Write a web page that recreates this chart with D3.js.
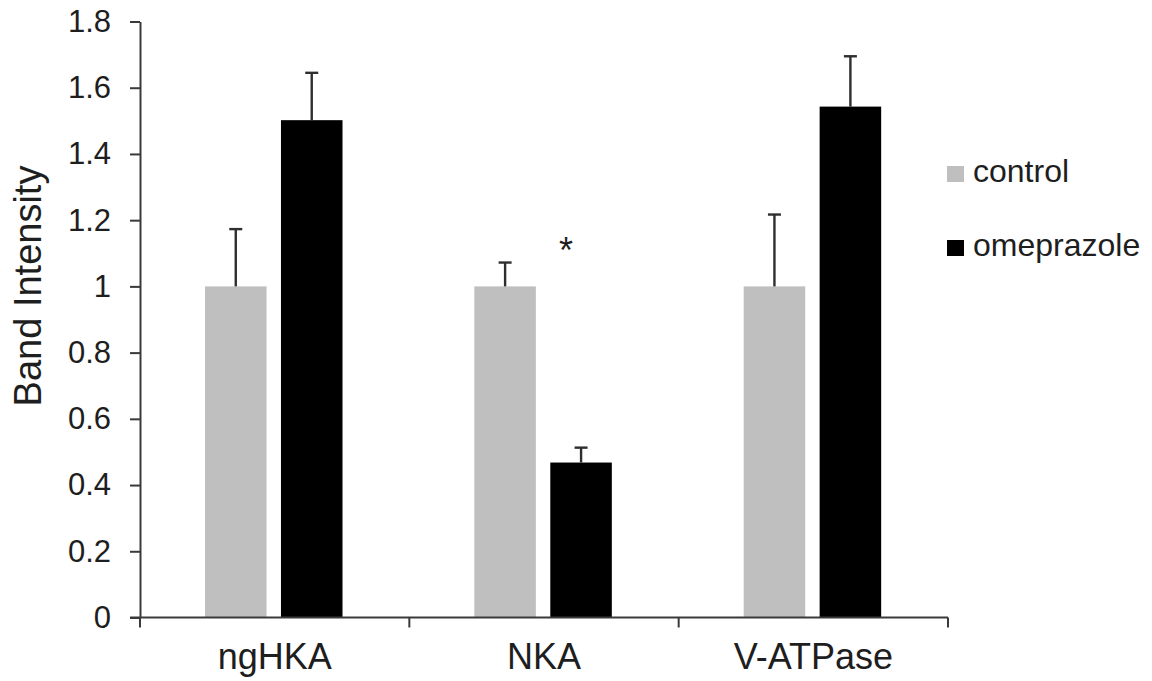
<!DOCTYPE html>
<html>
<head>
<meta charset="utf-8">
<script src="https://cdn.jsdelivr.net/npm/d3@7"></script>
<style>
  body { margin: 0; background: #fff; }
  svg { display: block; font-family: "Liberation Sans", Arial, sans-serif; }
</style>
</head>
<body>
<svg width="1152" height="681"></svg>
<script>
// data
const categories = ["ngHKA", "NKA", "V-ATPase"];
const series = ["control", "omeprazole"];
const controlValues = [1, 1, 1];
const controlErrors = [0.173, 0.072, 0.217];
const omeprazoleValues = [1.502, 0.468, 1.543];
const omeprazoleErrors = [0.143, 0.045, 0.152];
const yTicks = [0, 0.2, 0.4, 0.6, 0.8, 1, 1.2, 1.4, 1.6, 1.8];
const yLabel = "Band Intensity";
const marks = [{category: "NKA", series: "omeprazole", value: 1.135, text: "*"}];

const colors = {control: "#bfbfbf", omeprazole: "#000000"};

let svg = d3.select("svg");

let rows = [];
categories.forEach((c, i) => {
    rows.push({category: c, series: "control", value: controlValues[i], err: controlErrors[i]});
    rows.push({category: c, series: "omeprazole", value: omeprazoleValues[i], err: omeprazoleErrors[i]});
});

let y = d3.scaleLinear().domain([0, 1.8]).range([617.5, 21.5]);
let x0 = d3.scaleBand().domain(categories).range([140, 948]).padding(0);
let x1 = d3.scaleBand().domain(series).range([65, 202.5]).paddingInner(0.19);

const axisColor = "#3a3a3a";
const textColor = "#1e1e1e";

// bars
svg.append("g")
    .selectAll("rect")
    .data(rows)
    .enter()
    .append("rect")
    .attr("x", d => x0(d.category) + x1(d.series))
    .attr("y", d => y(d.value))
    .attr("width", x1.bandwidth())
    .attr("height", d => y(0) - y(d.value))
    .attr("fill", d => colors[d.series]);

// error bars
let err = svg.append("g")
    .attr("stroke", "#2e2e2e")
    .attr("stroke-width", 2.4);

err.selectAll(".stem")
    .data(rows)
    .enter()
    .append("line")
    .attr("x1", d => x0(d.category) + x1(d.series) + x1.bandwidth()/2)
    .attr("x2", d => x0(d.category) + x1(d.series) + x1.bandwidth()/2)
    .attr("y1", d => y(d.value))
    .attr("y2", d => y(d.value + d.err));

err.selectAll(".cap")
    .data(rows)
    .enter()
    .append("line")
    .attr("x1", d => x0(d.category) + x1(d.series) + x1.bandwidth()/2 - 6.5)
    .attr("x2", d => x0(d.category) + x1(d.series) + x1.bandwidth()/2 + 6.5)
    .attr("y1", d => y(d.value + d.err))
    .attr("y2", d => y(d.value + d.err));

// significance
svg.selectAll(".sig")
    .data(marks)
    .enter()
    .append("text")
    .attr("x", d => x0(d.category) + x1(d.series) + x1.bandwidth()/2 - 15)
    .attr("y", d => y(d.value))
    .attr("dy", "0.58em")
    .attr("text-anchor", "middle")
    .attr("font-size", 36)
    .attr("fill", textColor)
    .text(d => d.text);

// y axis
let yAxis = svg.append("g")
    .attr("transform", "translate(140,0)")
    .call(d3.axisLeft(y).tickValues(yTicks).tickSize(10).tickSizeOuter(0).tickPadding(19)
        .tickFormat(d => String(+d.toFixed(1))));
yAxis.selectAll("path, line").attr("stroke", axisColor).attr("stroke-width", 2);
yAxis.selectAll("text").attr("font-size", 31).attr("fill", textColor).attr("font-family", null);

// x axis (ticks between categories, Excel style)
let xAxis = svg.append("g");
xAxis.append("line")
    .attr("x1", x0.range()[0] - 10).attr("x2", x0.range()[1])
    .attr("y1", y(0)).attr("y2", y(0))
    .attr("stroke", axisColor).attr("stroke-width", 2);
let bounds = categories.map(c => x0(c)).concat([x0.range()[1]]);
xAxis.selectAll(".xtick")
    .data(bounds)
    .enter()
    .append("line")
    .attr("x1", d => d).attr("x2", d => d)
    .attr("y1", y(0)).attr("y2", y(0) + 10)
    .attr("stroke", axisColor).attr("stroke-width", 2);
xAxis.selectAll(".xlabel")
    .data(categories)
    .enter()
    .append("text")
    .attr("x", d => x0(d) + x0.bandwidth()/2)
    .attr("y", 669)
    .attr("text-anchor", "middle")
    .attr("font-size", 36)
    .attr("fill", textColor)
    .text(d => d);

// y label
svg.append("text")
    .attr("transform", "translate(41,286) rotate(-90)")
    .attr("text-anchor", "middle")
    .attr("font-size", 38)
    .attr("fill", textColor)
    .text(yLabel);

// legend
let legend = svg.append("g")
    .selectAll("g")
    .data(series)
    .enter()
    .append("g")
    .attr("transform", (d, i) => `translate(947,${166 + i * 74})`);
legend.append("rect")
    .attr("width", 17).attr("height", 16)
    .attr("fill", d => colors[d]);
legend.append("text")
    .attr("x", 26).attr("y", 16)
    .attr("font-size", 32)
    .attr("fill", textColor)
    .text(d => d);
</script>
</body>
</html>
